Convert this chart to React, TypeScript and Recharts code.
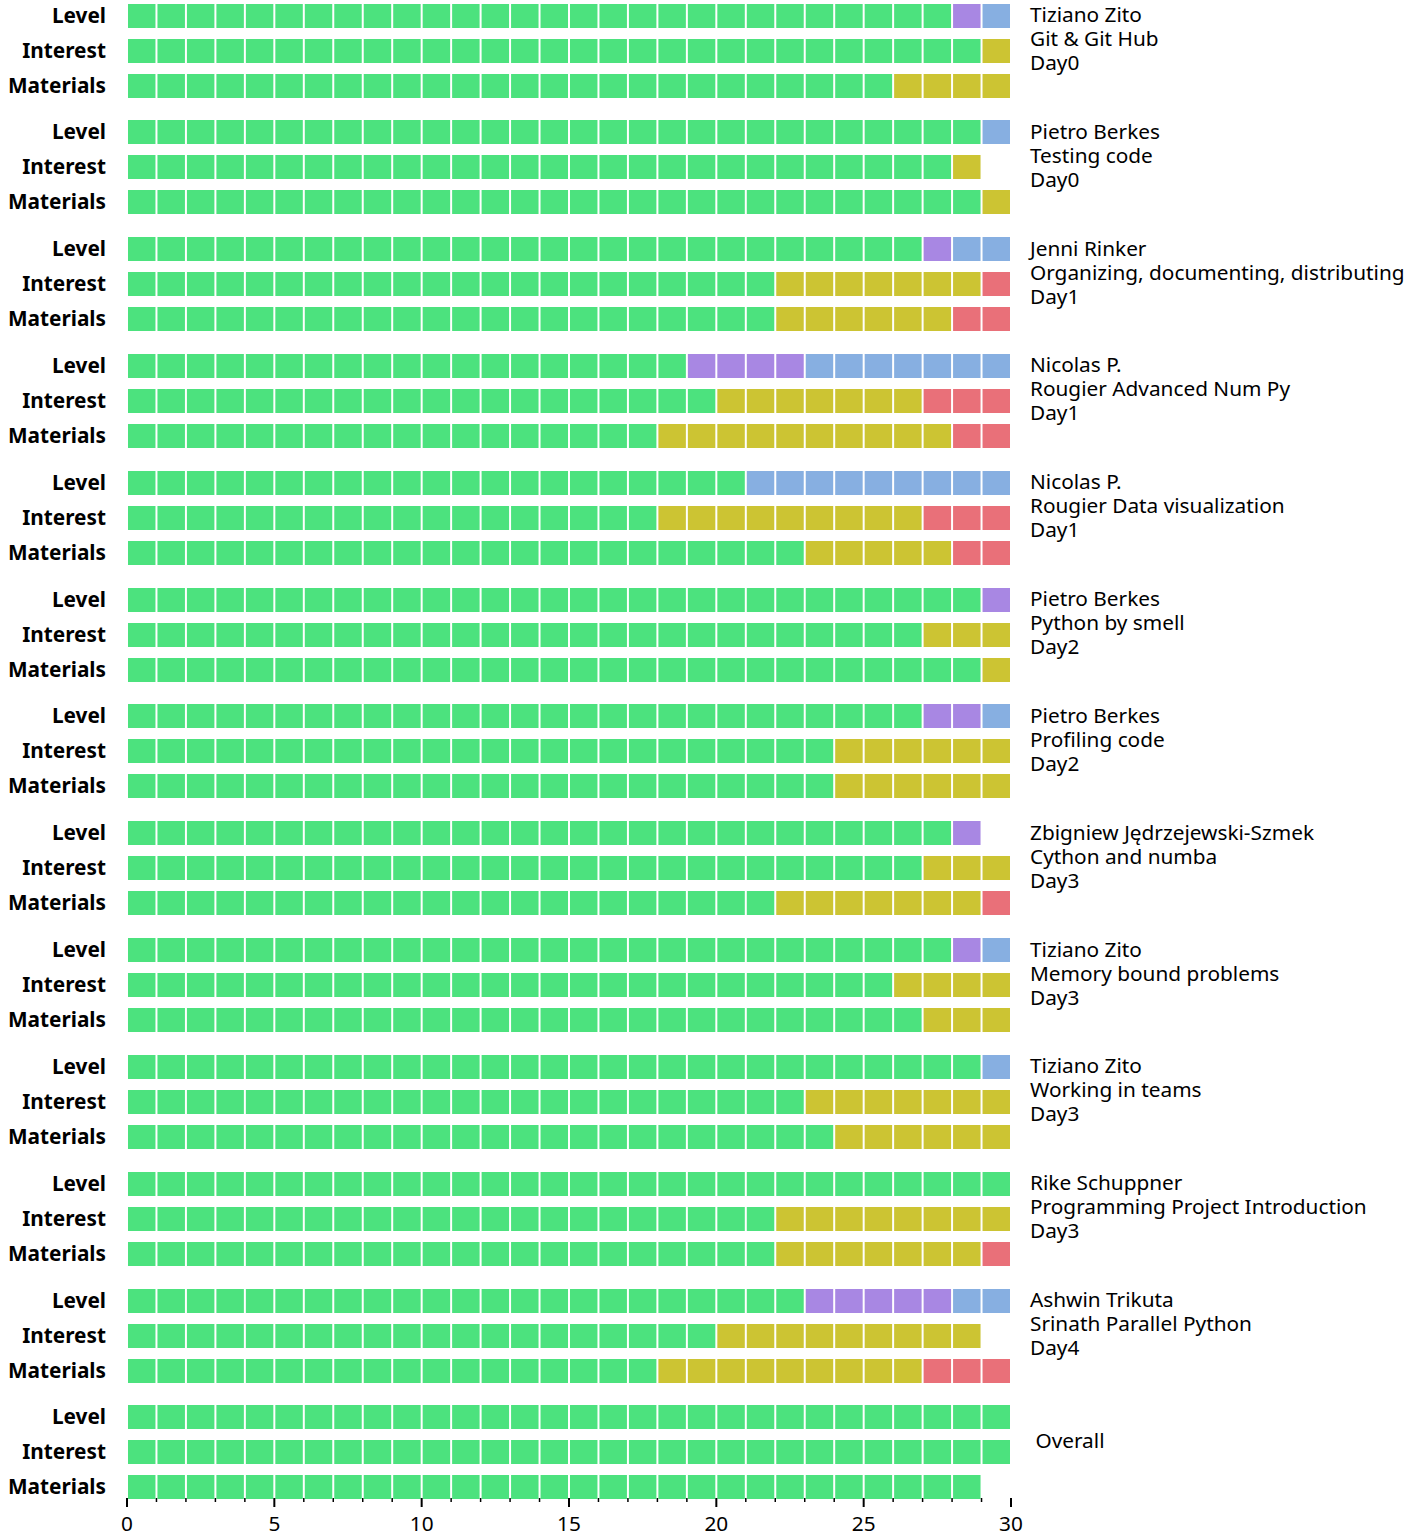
import React from 'react'
import { BarChart, Bar, XAxis, YAxis } from 'recharts'

const rowNames = ['Level', 'Interest', 'Materials']

const talkLabels = [
  ['Tiziano Zito', 'Git & Git Hub', 'Day0'],
  ['Pietro Berkes', 'Testing code', 'Day0'],
  ['Jenni Rinker', 'Organizing, documenting, distributing', 'Day1'],
  ['Nicolas P.', 'Rougier Advanced Num Py', 'Day1'],
  ['Nicolas P.', 'Rougier Data visualization', 'Day1'],
  ['Pietro Berkes', 'Python by smell', 'Day2'],
  ['Pietro Berkes', 'Profiling code', 'Day2'],
  ['Zbigniew Jędrzejewski-Szmek', 'Cython and numba', 'Day3'],
  ['Tiziano Zito', 'Memory bound problems', 'Day3'],
  ['Tiziano Zito', 'Working in teams', 'Day3'],
  ['Rike Schuppner', 'Programming Project Introduction', 'Day3'],
  ['Ashwin Trikuta', 'Srinath Parallel Python', 'Day4'],
  ['', ' Overall', ''],
]

// Level answers
const levelGreen = [28, 29, 27, 19, 21, 29, 27, 28, 28, 29, 30, 23, 30]
const levelPurple = [1, 0, 1, 4, 0, 1, 2, 1, 1, 0, 0, 5, 0]
const levelBlue = [1, 1, 2, 7, 9, 0, 1, 0, 1, 1, 0, 2, 0]

// Interest answers
const interestGreen = [29, 28, 22, 20, 18, 27, 24, 27, 26, 23, 22, 20, 30]
const interestYellow = [1, 1, 7, 7, 9, 3, 6, 3, 4, 7, 8, 9, 0]
const interestRed = [0, 0, 1, 3, 3, 0, 0, 0, 0, 0, 0, 0, 0]

// Materials answers
const materialsGreen = [26, 29, 22, 18, 23, 29, 24, 22, 27, 24, 22, 18, 29]
const materialsYellow = [4, 1, 6, 10, 5, 1, 6, 7, 3, 6, 7, 9, 0]
const materialsRed = [0, 0, 2, 2, 2, 0, 0, 1, 0, 0, 1, 3, 0]

const xTicks = [
  0, 1, 2, 3, 4, 5, 6, 7, 8, 9, 10, 11, 12, 13, 14, 15,
  16, 17, 18, 19, 20, 21, 22, 23, 24, 25, 26, 27, 28, 29, 30,
]

const COLORS: Record<string, string> = {
  green: '#4ce27e',
  purple: '#a887e3',
  blue: '#87afe1',
  yellow: '#ccc433',
  red: '#e97079',
}
const SERIES = ['green', 'purple', 'blue', 'yellow', 'red']

const FONT = '"Noto Sans", "Open Sans", sans-serif'
const FS = 20.8
const GROUP_STEP = 116.83
const ROW_BAND = 35

function groupData(i: number) {
  return [
    { row: rowNames[0], green: levelGreen[i], purple: levelPurple[i], blue: levelBlue[i], yellow: 0, red: 0 },
    { row: rowNames[1], green: interestGreen[i], purple: 0, blue: 0, yellow: interestYellow[i], red: interestRed[i] },
    { row: rowNames[2], green: materialsGreen[i], purple: 0, blue: 0, yellow: materialsYellow[i], red: materialsRed[i] },
  ]
}

// splits a stacked segment into one cell per answer
const unitShape = (key: string) => (props: any) => {
  const n = props.payload?.[key] ?? 0
  if (!n || !props.width) return <g />
  const w = props.width / n
  return (
    <g>
      {Array.from({ length: n }, (_, i) => (
        <rect key={i} x={props.x + i * w + 1} y={props.y} width={w - 2} height={props.height} fill={COLORS[key]} />
      ))}
    </g>
  )
}

function RowTick({ x, y, payload }: any) {
  return (
    <text x={x} y={y - 1} textAnchor="end" dominantBaseline="central" fontSize={FS} fontWeight="bold" fontFamily={FONT} fill="#000">
      {payload.value}
    </text>
  )
}

function AxisTick({ x, y, payload }: any) {
  const major = payload.value % 5 === 0
  return (
    <g>
      <line x1={x} x2={x} y1={y - 6} y2={y + (major ? 3 : -2)} stroke="#000" strokeWidth={major ? 2 : 1.5} />
      {major && (
        <text x={x} y={y + 19} textAnchor="middle" dominantBaseline="central" fontSize={FS} fontFamily={FONT} fill="#000">
          {payload.value}
        </text>
      )}
    </g>
  )
}

function Group({ index }: { index: number }) {
  const last = index === talkLabels.length - 1
  const axisH = last ? 40 : 0
  return (
    <div style={{ position: 'absolute', left: 0, top: 15 - ROW_BAND / 2 + GROUP_STEP * index }}>
      <BarChart
        width={1040}
        height={ROW_BAND * 3 + axisH}
        data={groupData(index)}
        layout="vertical"
        margin={{ top: 0, right: 29, bottom: 0, left: 0 }}
      >
        <XAxis
          type="number"
          domain={[0, 30]}
          ticks={xTicks}
          hide={!last}
          height={axisH}
          axisLine={false}
          tickLine={false}
          tickSize={0}
          tickMargin={0}
          interval={0}
          tick={<AxisTick />}
        />
        <YAxis
          type="category"
          dataKey="row"
          width={127}
          axisLine={false}
          tickLine={false}
          tickSize={0}
          tickMargin={21}
          tick={<RowTick />}
        />
        {SERIES.map((key) => (
          <Bar key={key} dataKey={key} stackId="a" barSize={24} fill={COLORS[key]} shape={unitShape(key)} isAnimationActive={false} />
        ))}
      </BarChart>
      <div
        style={{
          position: 'absolute',
          left: 1030,
          top: 2 + ROW_BAND / 2 - 15,
          fontFamily: FONT,
          fontSize: FS,
          lineHeight: '24px',
          whiteSpace: 'pre',
          color: '#000',
        }}
      >
        {talkLabels[index].join('\n')}
      </div>
    </div>
  )
}

export default function App() {
  return (
    <div style={{ position: 'absolute', left: 0, top: 0, width: 1424, height: 1535, background: '#fff' }}>
      {talkLabels.map((_, i) => (
        <Group key={i} index={i} />
      ))}
    </div>
  )
}
